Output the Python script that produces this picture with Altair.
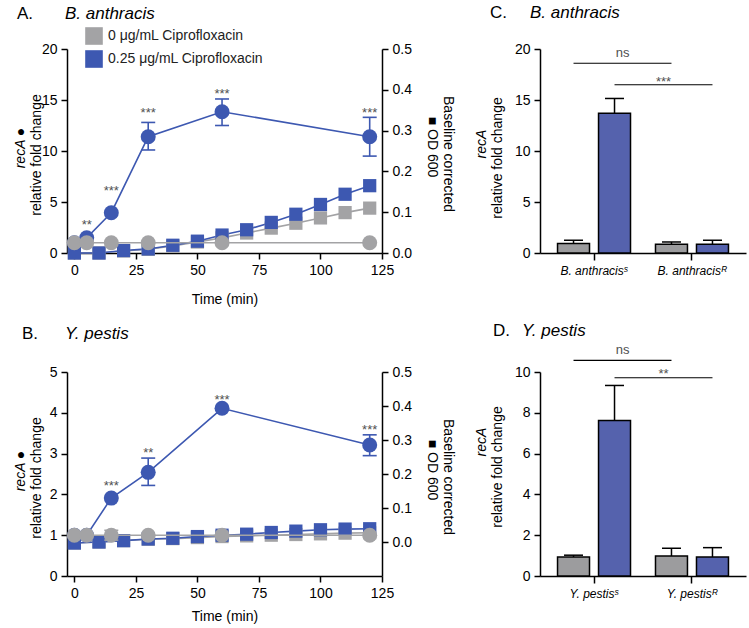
import altair as alt
import pandas as pd

FONT = "Liberation Sans"
GRAY = "#a3a3a5"
BLUE = "#3d58b1"
BAR_GRAY = "#9c9c9e"
BAR_BLUE = "#5562ad"
STAR = "#505050"
CAP = "M-1,0L1,0"

CONC = ["0 μg/mL Ciprofloxacin", "0.25 μg/mL Ciprofloxacin"]
SERIES_COLOR = {CONC[0]: GRAY, CONC[1]: BLUE}

# sampling times (min)
recA_time = [0, 5, 15, 30, 60, 120]
od_time = [0, 10, 20, 30, 40, 50, 60, 70, 80, 90, 100, 110, 120]
time_ticks = [0, 25, 50, 75, 100, 125]
od_ticks = [0.0, 0.1, 0.2, 0.3, 0.4, 0.5]

# ---- B. anthracis time course ----
ba_ctrl = [1.0, 1.0, 1.0, 1.0, 1.0, 1.0]
ba_ctrl_lo = [1.0, 1.0, 1.0, 1.0, 1.0, 1.0]
ba_ctrl_hi = [1.0, 1.0, 1.0, 1.0, 1.0, 1.0]
ba_cipro = [1.0, 1.5, 3.95, 11.4, 13.85, 11.4]
ba_cipro_lo = [1.0, 1.5, 3.95, 10.1, 12.5, 9.5]
ba_cipro_hi = [1.0, 1.5, 3.95, 12.8, 15.1, 13.3]
ba_sig_time = [5, 15, 30, 60, 120]
ba_sig_label = ["**", "***", "***", "***", "***"]
ba_sig_y = [3.1, 6.4, 14.1, 15.95, 14.1]
ba_od_ctrl = [0.0, 0.0, 0.005, 0.009, 0.017, 0.027, 0.037, 0.049, 0.061, 0.073, 0.086, 0.099, 0.11]
ba_od_cipro = [0.0, 0.0, 0.006, 0.01, 0.019, 0.029, 0.044, 0.057, 0.075, 0.095, 0.119, 0.144, 0.165]

# ---- Y. pestis time course ----
yp_ctrl = [1.0, 1.0, 1.0, 1.0, 1.0, 1.0]
yp_ctrl_lo = [1.0, 1.0, 0.88, 1.0, 1.0, 1.0]
yp_ctrl_hi = [1.0, 1.0, 1.12, 1.0, 1.0, 1.0]
yp_cipro = [1.0, 1.0, 1.91, 2.54, 4.11, 3.21]
yp_cipro_lo = [1.0, 1.0, 1.91, 2.22, 4.11, 2.95]
yp_cipro_hi = [1.0, 1.0, 1.91, 2.89, 4.11, 3.46]
yp_sig_time = [15, 30, 60, 120]
yp_sig_label = ["***", "**", "***", "***"]
yp_sig_y = [2.28, 3.11, 4.39, 3.66]
yp_od_ctrl = [-0.003, 0.0, 0.004, 0.008, 0.01, 0.013, 0.016, 0.018, 0.02, 0.022, 0.024, 0.026, 0.027]
yp_od_cipro = [-0.003, 0.0, 0.004, 0.009, 0.011, 0.016, 0.02, 0.023, 0.028, 0.032, 0.036, 0.038, 0.039]

# ---- sensitive vs resistant strains, recA fold change ----
ba_strains = ["B. anthracisˢ", "B. anthracisᴿ"]
ba_bar_ctrl = [0.92, 0.85]
ba_bar_ctrl_hi = [1.25, 1.08]
ba_bar_cipro = [13.7, 0.85]
ba_bar_cipro_hi = [15.15, 1.25]
ba_cmp_label = ["ns", "***"]
ba_cmp_line_y = [18.6, 16.5]
ba_cmp_text_y = [19.6, 17.1]

yp_strains = ["Y. pestisˢ", "Y. pestisᴿ"]
yp_bar_ctrl = [0.93, 0.98]
yp_bar_ctrl_hi = [1.02, 1.36]
yp_bar_cipro = [7.62, 0.93]
yp_bar_cipro_hi = [9.34, 1.39]
yp_cmp_label = ["ns", "**"]
yp_cmp_line_y = [10.57, 9.72]
yp_cmp_text_y = [11.07, 10.08]


def text_at(txt, x, y, **kw):
    return alt.Chart(pd.DataFrame({"t": [txt]})).mark_text(font=FONT, **kw).encode(
        text="t:N", x=alt.value(x), y=alt.value(y))


def recA_frame(ctrl, ctrl_lo, ctrl_hi, cipro, cipro_lo, cipro_hi):
    rows = []
    for conc, v, lo, hi in ((CONC[0], ctrl, ctrl_lo, ctrl_hi), (CONC[1], cipro, cipro_lo, cipro_hi)):
        for t, a, b, c in zip(recA_time, v, lo, hi):
            rows.append({"time": t, "conc": conc, "fold": a, "lo": b, "hi": c})
    return pd.DataFrame(rows)


def od_frame(ctrl, cipro):
    rows = []
    for conc, v in ((CONC[0], ctrl), (CONC[1], cipro)):
        for t, a in zip(od_time, v):
            rows.append({"time": t, "conc": conc, "od": a})
    return pd.DataFrame(rows)


# one shared legend for the treatment colours (drawn once, top left of panel A)
LEGEND = alt.Legend(orient="none", legendX=18, legendY=-22, title=None, symbolType="square",
                    symbolSize=310, symbolStrokeWidth=0, symbolOpacity=1, labelFontSize=14,
                    labelFont=FONT, labelColor="#222222", labelLimit=300, rowPadding=5,
                    labelOffset=5, padding=0)


def time_panel(recA_df, od_df, sig_df, fold_max, fold_ticks, od_min,
               letter, species, title_pad, head_y, head_x):
    x = alt.X("time:Q", scale=alt.Scale(domain=[-3, 125], nice=False, zero=False),
              axis=alt.Axis(values=time_ticks, title="Time (min)", titlePadding=title_pad,
                            labelFlush=False, labelOverlap=False))
    fold_scale = alt.Scale(domain=[0, fold_max], nice=False, zero=False)
    fold_axis = alt.Axis(values=fold_ticks, title=None, orient="left")
    od_scale = alt.Scale(domain=[od_min, 0.5], nice=False, zero=False)
    od_axis = alt.Axis(values=od_ticks, format=".1f", title=None, orient="right")
    fy = alt.Y("fold:Q", scale=fold_scale, axis=fold_axis)
    oy = alt.Y("od:Q", scale=od_scale, axis=od_axis)

    # OD600 growth curves on the right axis
    od_layers = []
    for conc in CONC:
        df = od_df[od_df.conc == conc]
        od_layers.append(alt.Chart(df).mark_line(strokeWidth=1.6, color=SERIES_COLOR[conc])
                         .encode(x=x, y=oy))
    od_layers.append(alt.Chart(od_df).mark_square(size=175, opacity=1, filled=True).encode(
        x=x, y=oy,
        color=alt.Color("conc:N", scale=alt.Scale(domain=CONC, range=[GRAY, BLUE]),
                        legend=LEGEND)))
    od_group = alt.layer(*od_layers)

    # recA fold change on the left axis: treated series first, control on top
    layers = []
    for conc in (CONC[1], CONC[0]):
        c = SERIES_COLOR[conc]
        df = recA_df[recA_df.conc == conc]
        base = alt.Chart(df).encode(x=x)
        layers.append(base.mark_line(strokeWidth=1.6, color=c).encode(y=fy))
        err = df[df.hi > df.lo]
        if len(err):
            eb = alt.Chart(err).encode(x=x)
            layers.append(eb.mark_rule(strokeWidth=1.6, color=c).encode(
                y=alt.Y("lo:Q", scale=fold_scale, axis=fold_axis), y2="hi:Q"))
            for f in ("lo", "hi"):
                layers.append(eb.mark_point(shape=CAP, size=196, filled=False, strokeWidth=1.6,
                                            opacity=1, color=c).encode(
                    y=alt.Y(f"{f}:Q", scale=fold_scale, axis=fold_axis)))
        layers.append(base.mark_circle(size=225, opacity=1, color=c).encode(y=fy))

    layers.append(alt.Chart(sig_df).mark_text(fontSize=13, color=STAR, baseline="alphabetic",
                                              dy=7.5, font=FONT).encode(
        x=x, y=alt.Y("y:Q", scale=fold_scale, axis=fold_axis), text="label:N"))

    # panel heading and axis titles
    layers += [
        text_at(letter, head_x, head_y, fontSize=17, align="left", baseline="alphabetic"),
        text_at(species, -2, head_y, fontSize=17, align="left", baseline="alphabetic",
                fontStyle="italic"),
        text_at("recA ●", -46, 99, fontSize=14, angle=270, align="center", baseline="middle",
                fontStyle="italic"),
        text_at("relative fold change", -30, 106, fontSize=14, angle=270, align="center",
                baseline="middle"),
        text_at("Baseline corrected", 381, 105, fontSize=14, angle=90, align="center",
                baseline="middle"),
        text_at("■ OD 600", 365, 98, fontSize=14, angle=90, align="center", baseline="middle"),
    ]
    circ_group = alt.layer(*layers)
    return alt.layer(od_group, circ_group).resolve_scale(y="independent").properties(
        width=315, height=204)


def bar_panel(strains, ctrl, ctrl_hi, cipro, cipro_hi, y_max, y_ticks,
              cmp_label, cmp_line_y, cmp_text_y, letter, species, head_y, head_x, sp_x,
              recA_y, rel_y):
    df = pd.DataFrame({
        "strain": strains + strains,
        "treat": [CONC[0]] * 2 + [CONC[1]] * 2,
        "val": ctrl + cipro,
        "hi": ctrl_hi + cipro_hi,
    })
    x = alt.X("strain:N", sort=strains,
              scale=alt.Scale(domain=strains, paddingInner=0.255, paddingOuter=0.179),
              axis=alt.Axis(title=None, labelAngle=0, labelFontStyle="italic", labelFontSize=12,
                            tickSize=7, labelPadding=5))
    xo = alt.XOffset("treat:N", sort=CONC,
                     scale=alt.Scale(domain=CONC, paddingInner=0.22, paddingOuter=0))
    ys = alt.Scale(domain=[0, y_max], nice=False)
    yax = alt.Axis(values=y_ticks, title=None)

    err = alt.Chart(df).mark_rule(color="black", strokeWidth=1.5).encode(
        x=x, xOffset=xo, y=alt.Y("val:Q", scale=ys, axis=yax), y2="hi:Q")
    cap = alt.Chart(df).mark_point(shape=CAP, size=361, filled=False, color="black",
                                   strokeWidth=1.5, opacity=1).encode(
        x=x, xOffset=xo, y=alt.Y("hi:Q", scale=ys, axis=yax))
    bars = alt.Chart(df).mark_bar(stroke="black", strokeWidth=1.5).encode(
        x=x, xOffset=xo, y=alt.Y("val:Q", scale=ys, axis=yax, stack=None),
        fill=alt.Fill("treat:N", scale=alt.Scale(domain=CONC, range=[BAR_GRAY, BAR_BLUE]),
                      legend=None))

    # comparison brackets: control S vs R, treated S vs R
    cmp = pd.DataFrame({
        "strain": [strains[0], strains[1], strains[0], strains[1]],
        "treat": [CONC[0], CONC[0], CONC[1], CONC[1]],
        "y": [cmp_line_y[0], cmp_line_y[0], cmp_line_y[1], cmp_line_y[1]],
        "pair": ["a", "a", "b", "b"],
    })
    lines = alt.Chart(cmp).mark_line(color="black", strokeWidth=1.1).encode(
        x=x, xOffset=xo, y=alt.Y("y:Q", scale=ys, axis=yax), detail="pair:N")
    lab = pd.DataFrame({"strain": [strains[0], strains[0]], "treat": CONC,
                        "y": cmp_text_y, "label": cmp_label})
    ns_text = alt.Chart(lab.iloc[[0]]).mark_text(fontSize=13, color=STAR, dx=49, dy=3.5,
                                                 baseline="alphabetic", font=FONT).encode(
        x=x, xOffset=xo, y=alt.Y("y:Q", scale=ys, axis=yax), text="label:N")
    star_text = alt.Chart(lab.iloc[[1]]).mark_text(fontSize=13, color=STAR, dx=49, dy=7.5,
                                                   baseline="alphabetic", font=FONT).encode(
        x=x, xOffset=xo, y=alt.Y("y:Q", scale=ys, axis=yax), text="label:N")

    heads = [
        text_at(letter, head_x, head_y, fontSize=17, align="left", baseline="alphabetic"),
        text_at(species, sp_x, head_y, fontSize=17, align="left", baseline="alphabetic",
                fontStyle="italic"),
        text_at("recA", -58, recA_y, fontSize=14, angle=270, align="center", baseline="middle",
                fontStyle="italic"),
        text_at("relative fold change", -42, rel_y, fontSize=14, angle=270, align="center",
                baseline="middle"),
    ]
    return alt.layer(err, cap, bars, lines, ns_text, star_text, *heads).properties(
        width=206, height=204)


sig_a = pd.DataFrame({"time": ba_sig_time, "label": ba_sig_label, "y": ba_sig_y})
sig_b = pd.DataFrame({"time": yp_sig_time, "label": yp_sig_label, "y": yp_sig_y})

panel_a = time_panel(
    recA_frame(ba_ctrl, ba_ctrl_lo, ba_ctrl_hi, ba_cipro, ba_cipro_lo, ba_cipro_hi),
    od_frame(ba_od_ctrl, ba_od_cipro), sig_a, 20, [0, 5, 10, 15, 20], 0.0,
    "A.", "B. anthracis", 15, -30, -50)
panel_b = time_panel(
    recA_frame(yp_ctrl, yp_ctrl_lo, yp_ctrl_hi, yp_cipro, yp_cipro_lo, yp_cipro_hi),
    od_frame(yp_od_ctrl, yp_od_cipro), sig_b, 5, [0, 1, 2, 3, 4, 5], -0.1,
    "B.", "Y. pestis", 9, -33, -45)
panel_c = bar_panel(ba_strains, ba_bar_ctrl, ba_bar_ctrl_hi, ba_bar_cipro, ba_bar_cipro_hi,
                    20, [0, 5, 10, 15, 20], ba_cmp_label, ba_cmp_line_y, ba_cmp_text_y,
                    "C.", "B. anthracis", -31, -50, -10, 95, 109)
panel_d = bar_panel(yp_strains, yp_bar_ctrl, yp_bar_ctrl_hi, yp_bar_cipro, yp_bar_cipro_hi,
                    10, [0, 2, 4, 6, 8, 10], yp_cmp_label, yp_cmp_line_y, yp_cmp_text_y,
                    "D.", "Y. pestis", -36, -47, -18, 70, 95)

chart = alt.concat(
    panel_a, panel_c, panel_b, panel_d,
    columns=2, spacing={"row": 119, "column": 158}, bounds="flush",
).properties(
    padding={"left": 14, "top": 4, "right": 2, "bottom": 2}
).configure_view(
    stroke=None
).configure_axis(
    labelFont=FONT, titleFont=FONT, labelFontSize=14, titleFontSize=14,
    labelColor="black", titleColor="black", titleFontWeight="normal",
    domainColor="black", tickColor="black", domainWidth=1.5, tickWidth=1.5,
    tickSize=6, labelPadding=4, grid=False,
)

chart.save("out.html", embed_options={"renderer": "svg", "actions": False})
